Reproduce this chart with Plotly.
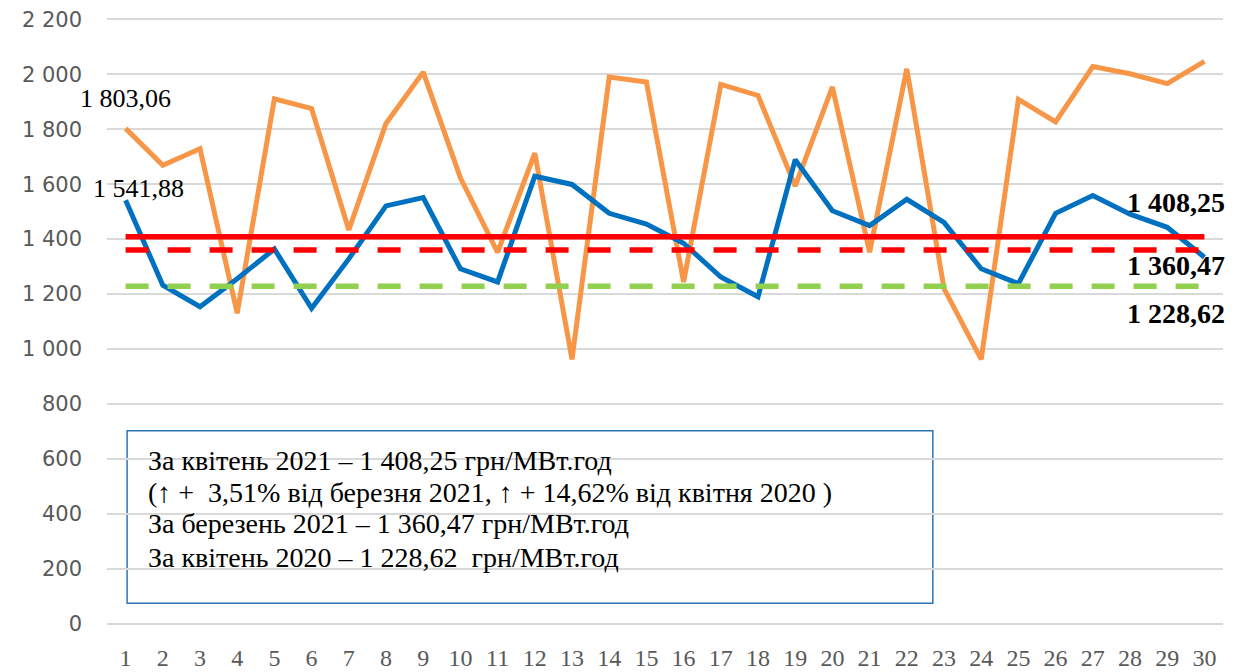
import plotly.graph_objects as go

days = list(range(1, 31))
apr2021 = [1541.88, 1232, 1154, 1256, 1364, 1148, 1328, 1521, 1551, 1292,
           1244, 1629, 1599, 1494, 1455, 1385, 1262, 1190, 1689, 1503,
           1449, 1545, 1461, 1292, 1238, 1494, 1559, 1491, 1443, 1334]
other = [1803.06, 1669, 1729, 1130, 1911, 1875, 1433, 1821, 2008, 1623,
         1352, 1713, 962, 1990, 1972, 1244, 1963, 1923, 1593, 1954,
         1352, 2020, 1220, 962, 1909, 1827, 2028, 2002, 1966, 2047]
avg_apr2021 = 1408.25
avg_mar2021 = 1360.47
avg_apr2020 = 1228.62

y_ticks = [0, 200, 400, 600, 800, 1000, 1200, 1400, 1600, 1800, 2000, 2200]
y_ticktext = ["0", "200", "400", "600", "800", "1 000", "1 200", "1 400",
              "1 600", "1 800", "2 000", "2 200"]

box_lines = [
    "За квітень 2021 – 1 408,25 грн/МВт.год",
    "(↑ +  3,51% від березня 2021, ↑ + 14,62% від квітня 2020 )",
    "За березень 2021 – 1 360,47 грн/МВт.год",
    "За квітень 2020 – 1 228,62  грн/МВт.год",
]

fig = go.Figure()
fig.add_trace(go.Scatter(x=days, y=other, mode="lines",
                         line=dict(color="#F79646", width=5)))
fig.add_trace(go.Scatter(x=days, y=apr2021, mode="lines",
                         line=dict(color="#0070C0", width=5)))
fig.add_trace(go.Scatter(x=[days[0], days[-1]], y=[avg_apr2021] * 2, mode="lines",
                         line=dict(color="#FF0000", width=5.5)))
fig.add_trace(go.Scatter(x=[days[0], days[-1]], y=[avg_mar2021] * 2, mode="lines",
                         line=dict(color="#FF0000", width=5.5, dash="23px,19px")))
fig.add_trace(go.Scatter(x=[days[0], days[-1]], y=[avg_apr2020] * 2, mode="lines",
                         line=dict(color="#92D050", width=5.5, dash="23px,19px")))

serif = "Liberation Serif"
ann = []
ann.append(dict(x=days[0], y=other[0], text="1 803,06", showarrow=False,
                xanchor="center", yanchor="middle", xshift=0, yshift=30,
                font=dict(family=serif, size=26, color="#000000")))
ann.append(dict(x=days[0], y=apr2021[0], text="1 541,88", showarrow=False,
                xanchor="center", yanchor="middle", xshift=13, yshift=12,
                font=dict(family=serif, size=26, color="#000000")))
ann.append(dict(x=days[-1], y=avg_apr2021, text="<b>1 408,25</b>", showarrow=False,
                xanchor="right", yanchor="middle", xshift=23, yshift=34,
                font=dict(family=serif, size=28, color="#000000")))
ann.append(dict(x=days[-1], y=avg_mar2021, text="<b>1 360,47</b>", showarrow=False,
                xanchor="right", yanchor="middle", xshift=23, yshift=-16,
                font=dict(family=serif, size=28, color="#000000")))
ann.append(dict(x=days[-1], y=avg_apr2020, text="<b>1 228,62</b>", showarrow=False,
                xanchor="right", yanchor="middle", xshift=23, yshift=-27,
                font=dict(family=serif, size=28, color="#000000")))

# text box
box_x0, box_x1 = 0.018, 0.740
box_y0, box_y1 = 0.036, 0.320
line_y = [0.2705, 0.2185, 0.1672, 0.1115]
for t, yy in zip(box_lines, line_y):
    ann.append(dict(xref="paper", yref="paper", x=0.035, y=yy, text=t,
                    showarrow=False, xanchor="left", yanchor="middle",
                    font=dict(family=serif, size=28, color="#000000")))

fig.update_layout(
    width=1229, height=664,
    margin=dict(l=99, r=14, t=10, b=47, autoexpand=False),
    paper_bgcolor="white", plot_bgcolor="white",
    showlegend=False,
    annotations=ann,
    shapes=[dict(type="rect", xref="paper", yref="paper",
                 x0=box_x0, x1=box_x1, y0=box_y0, y1=box_y1,
                 line=dict(color="#2E75B6", width=1.5),
                 fillcolor="rgba(0,0,0,0)", layer="below")],
    xaxis=dict(range=[0.5, 30.5], tickmode="array", tickvals=days,
               ticktext=[str(d) for d in days], showgrid=False, zeroline=False,
               showline=False, ticks="", ticklabelstandoff=16, automargin=False,
               tickfont=dict(family=serif, size=24, color="#595959")),
    yaxis=dict(range=[-5, 2205], tickmode="array", tickvals=y_ticks,
               ticktext=y_ticktext, showgrid=True, gridcolor="#D9D9D9",
               gridwidth=1.5, zeroline=False, showline=False, ticks="",
               ticklabelstandoff=24, ticklabeloverflow="allow", automargin=False,
               tickfont=dict(family="DejaVu Sans", size=21, color="#595959")),
)

fig.write_html("out.html")
